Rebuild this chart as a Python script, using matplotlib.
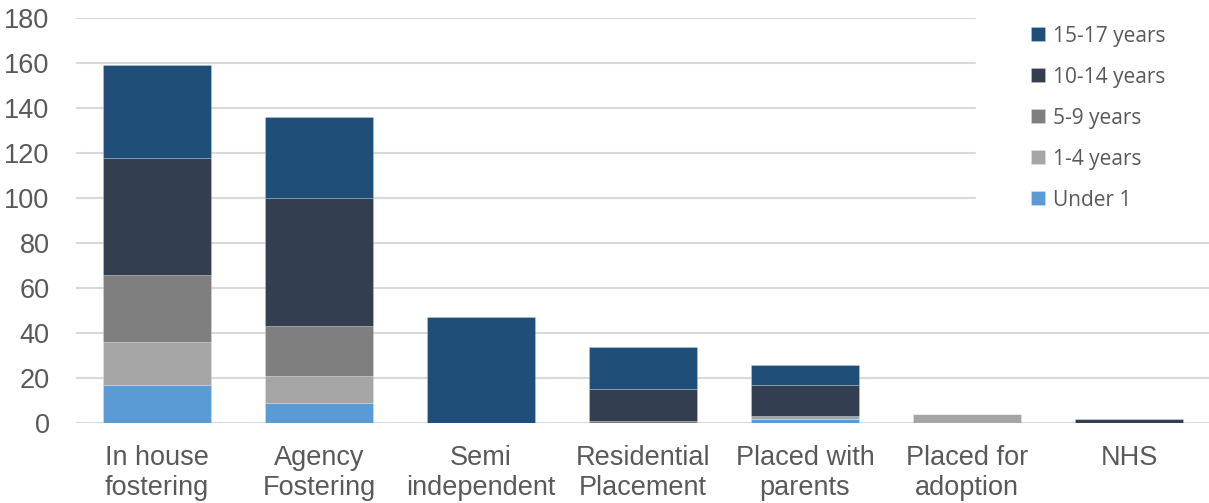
import matplotlib.pyplot as plt
from matplotlib.patches import Rectangle
import numpy as np

categories = ['In house\nfostering', 'Agency\nFostering', 'Semi\nindependent',
              'Residential\nPlacement', 'Placed with\nparents', 'Placed for\nadoption', 'NHS']
under_1 = [17, 9, 0, 0, 2, 0, 0]
years_1_4 = [19, 12, 0, 0, 1, 4, 0]
years_5_9 = [30, 22, 0, 1, 0, 0, 0]
years_10_14 = [52, 57, 0, 14, 14, 0, 2]
years_15_17 = [41, 36, 47, 19, 9, 0, 0]

series = [('Under 1', under_1, '#5b9bd5'),
          ('1-4 years', years_1_4, '#a5a5a5'),
          ('5-9 years', years_5_9, '#7f7f7f'),
          ('10-14 years', years_10_14, '#333f50'),
          ('15-17 years', years_15_17, '#1f4e79')]

text_col = '#595959'

fig = plt.figure(figsize=(12.09, 5.03), dpi=100)
ax = fig.add_axes([76 / 1209, 80 / 503, 1134 / 1209, 405 / 503])

x = np.arange(len(categories))
bottom = np.zeros(len(categories))
handles = []
for name, vals, col in series:
    vals = np.array(vals, dtype=float)
    b = ax.bar(x, vals, 0.667, bottom=bottom, color=col, label=name,
               edgecolor=(1, 1, 1, 0.25), linewidth=0.6, zorder=2)
    handles.append(b)
    bottom += vals

ax.set_xlim(-0.5, len(categories) - 0.5)
ax.set_ylim(0, 180)
ax.set_yticks(range(0, 181, 20))
ax.set_xticks(x)
ax.set_xticklabels(categories, fontsize=19.5, color=text_col, family='Liberation Sans',
                   linespacing=1.2)
ax.tick_params(axis='x', length=0, pad=16)
ax.tick_params(axis='y', length=0, pad=19, labelsize=19.5, labelcolor=text_col)
for lab in ax.get_yticklabels():
    lab.set_family('Liberation Sans')

ax.set_axisbelow(True)
ax.grid(axis='y', color='#d9d9d9', linewidth=1.5, zorder=0.5)
for s in ax.spines.values():
    s.set_visible(False)

# white area behind the legend hides the grid there
ax.add_patch(Rectangle((0.794, 0.5), 0.3, 0.6, transform=ax.transAxes,
                       color='white', zorder=1, clip_on=False))

fig.legend(handles[::-1], [h.get_label() for h in handles[::-1]],
           loc='upper left', bbox_to_anchor=(1031 / 1209, 0.949),
           frameon=False, handlelength=0.67, handleheight=0.67,
           handletextpad=0.4, labelspacing=0.96, borderpad=0, borderaxespad=0,
           labelcolor=text_col, prop={'family': 'Open Sans', 'size': 15})

fig.savefig('out.png', dpi=100)
